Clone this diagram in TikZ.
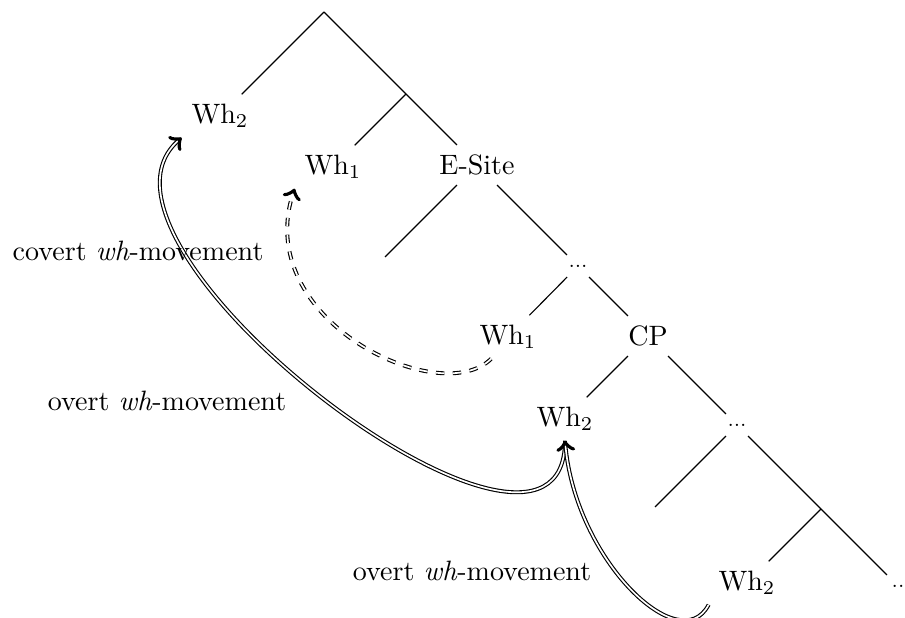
\documentclass[tikz,border=0pt]{standalone}
\usepackage{amsmath , amssymb}
\usetikzlibrary{positioning, arrows}

\begin{document}
\begin{tikzpicture}[x=0.01255cm, y=-0.01255cm,
        overt/.style={->, double},
        covert/.style={->, double, dashed},
        dots/.style={font=\scriptsize}]
    \useasboundingbox (0,0) rectangle (905,618);
    % tree
    \coordinate (top) at (324,12);
    \coordinate (j1) at (406,94);
    \node (wh2a) at (220,116) {Wh$_2$};
    \node (wh1a) at (333,167) {Wh$_1$};
    \node (esite) at (477,165) {E-Site};
    \coordinate (e1) at (385,257);
    \node[dots] (d1) at (578,266) {...};
    \node (wh1b) at (508,337) {Wh$_1$};
    \node (cp) at (648,336) {CP};
    \node (wh2b) at (565,419) {Wh$_2$};
    \node[dots] (d2) at (737,425) {...};
    \coordinate (e2) at (655,507);
    \coordinate (j2) at (821,509);
    \node (wh2c) at (747,583) {Wh$_2$};
    \node[dots] (d3) at (898,586) {..};
    \draw (top) -- (wh2a)  (top) -- (j1) -- (esite)  (j1) -- (wh1a)
          (esite) -- (e1)  (esite) -- (d1)
          (d1) -- (wh1b)  (d1) -- (cp)
          (cp) -- (wh2b)  (cp) -- (d2)
          (d2) -- (e2)  (d2) -- (j2) -- (d3)  (j2) -- (wh2c);
    % movement
    \draw[covert] ([xshift=-6pt]wh1b.south) .. controls (440,410) and (250,320) .. (wh1a.south west);
    \draw[overt] (wh2b.south) .. controls (565,630) and (55,245) .. (wh2a.south west);
    \draw[overt] (wh2c.south west) .. controls (680,660) and (575,560) .. (wh2b.south);
    \node (lcovert) at (138,251) {covert \textit{wh}-movement};
    \node (lovert) at (167,401) {overt \textit{wh}-movement};
    \node (lovertb) at (472,571) {overt \textit{wh}-movement};
\end{tikzpicture}
\end{document}
